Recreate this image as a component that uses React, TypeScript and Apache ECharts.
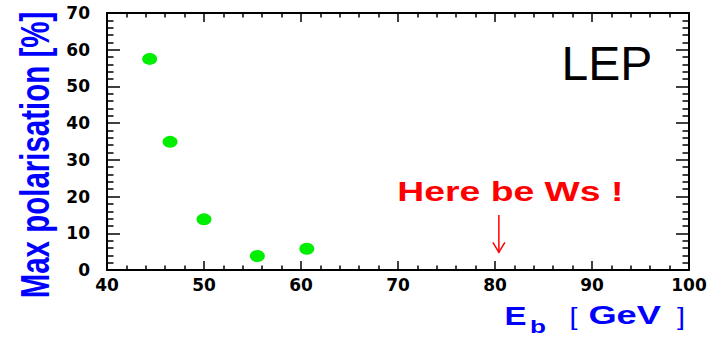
import React, { useEffect, useRef } from "react";
import * as echarts from "echarts";

// Data
const beamEnergy = [44.4, 46.5, 50.0, 55.5, 60.6]; // GeV
const maxPolarisation = [57.5, 34.9, 13.8, 3.8, 5.8]; // %
const xMin = 40;
const xMax = 100;
const yMin = 0;
const yMax = 70;
const tickStep = 10;
const wMass = 80.4;
const arrowFromY = 15;
const arrowToY = 4.8;

const yTitle = "Max polarisation [%]";
const annotation = "Here be Ws !";
const experiment = "LEP";

const BLUE = "#0000ff";
const RED = "#ff0000";
const GREEN = "#00ee00";

function makeAxis(min: number, max: number, majorLen: number, minorLen: number, showLabels: boolean, labelMargin: number) {
  return {
    type: "value",
    min,
    max,
    interval: tickStep,
    axisLine: { show: true, onZero: false, lineStyle: { color: "#000", width: 2 } },
    axisTick: { show: true, inside: true, length: majorLen, lineStyle: { color: "#000", width: 1.5 } },
    minorTick: { show: true, splitNumber: 5, length: minorLen, lineStyle: { color: "#000", width: 1.5 } },
    splitLine: { show: false },
    axisLabel: {
      show: showLabels,
      margin: labelMargin,
      color: "#000",
      fontFamily: "DejaVu Sans",
      fontWeight: "bold",
      fontSize: 17,
    },
  };
}

function txt(text: string, x: number, y: number, font: string, fill: string, scaleX = 1, align = "left") {
  return {
    type: "text",
    x,
    y,
    scaleX,
    style: {
      text,
      font,
      fill,
      align,
      verticalAlign: "middle",
      textAlign: align,
      textVerticalAlign: "middle",
    },
  };
}

export default function App() {
  const ref = useRef<HTMLDivElement>(null);

  useEffect(() => {
    const el = ref.current;
    if (!el) return;
    const chart = echarts.init(el, undefined, { renderer: "svg" });

    const staticGraphics: any[] = [
      {
        type: "text",
        x: 35.5,
        y: 155,
        rotation: Math.PI / 2,
        scaleY: 1.38,
        style: {
          text: yTitle,
          font: 'bold 29.5px "Liberation Sans"',
          fill: BLUE,
          align: "center",
          verticalAlign: "middle",
          textAlign: "center",
          textVerticalAlign: "middle",
        },
      },
      txt("E", 504.6, 316, 'bold 25px "Liberation Sans"', BLUE, 1.32),
      txt("b", 530, 327, 'bold 18px "Liberation Sans"', BLUE, 1.45),
      txt("[", 569.5, 317, '24px "Liberation Sans"', BLUE, 1.2),
      txt("GeV", 588.4, 316, 'bold 25px "Liberation Sans"', BLUE, 1.45),
      txt("]", 677, 317, '24px "Liberation Sans"', BLUE, 1.2),
      txt(experiment, 561.5, 63, '48px "Liberation Sans"', "#000", 1),
      txt(annotation, 397.3, 191, 'bold 28px "Liberation Sans"', RED, 1.333),
    ];

    chart.setOption({
      animation: false,
      backgroundColor: "#fff",
      grid: { left: 107, right: 32, top: 13, bottom: 67, containLabel: false },
      xAxis: [
        { ...makeAxis(xMin, xMax, 9, 4.5, true, 6), position: "bottom" },
        { ...makeAxis(xMin, xMax, 9, 4.5, false, 6), position: "top" },
      ],
      yAxis: [
        { ...makeAxis(yMin, yMax, 13, 6.5, true, 17), position: "left" },
        { ...makeAxis(yMin, yMax, 13, 6.5, false, 17), position: "right" },
      ],
      series: [
        {
          type: "scatter",
          xAxisIndex: 0,
          yAxisIndex: 0,
          symbol: "circle",
          symbolSize: [15, 12],
          itemStyle: { color: GREEN, opacity: 1 },
          data: beamEnergy.map((e, i) => [e, maxPolarisation[i]]),
        },
      ],
      graphic: staticGraphics,
    });

    const p1 = chart.convertToPixel({ gridIndex: 0 }, [wMass, arrowFromY]) as number[];
    const p2 = chart.convertToPixel({ gridIndex: 0 }, [wMass, arrowToY]) as number[];
    if (p1 && p2) {
      const lineStyle = { stroke: RED, lineWidth: 1.5, fill: "none" };
      chart.setOption({
        graphic: [
          ...staticGraphics,
          { type: "line", shape: { x1: p1[0], y1: p1[1], x2: p2[0], y2: p2[1] }, style: lineStyle },
          {
            type: "polyline",
            shape: { points: [[p2[0] - 6, p2[1] - 10], [p2[0], p2[1]], [p2[0] + 6, p2[1] - 10]] },
            style: lineStyle,
          },
        ],
      });
    }

    return () => chart.dispose();
  }, []);

  return <div ref={ref} style={{ position: "absolute", left: 0, top: 0, width: 721, height: 337 }} />;
}
